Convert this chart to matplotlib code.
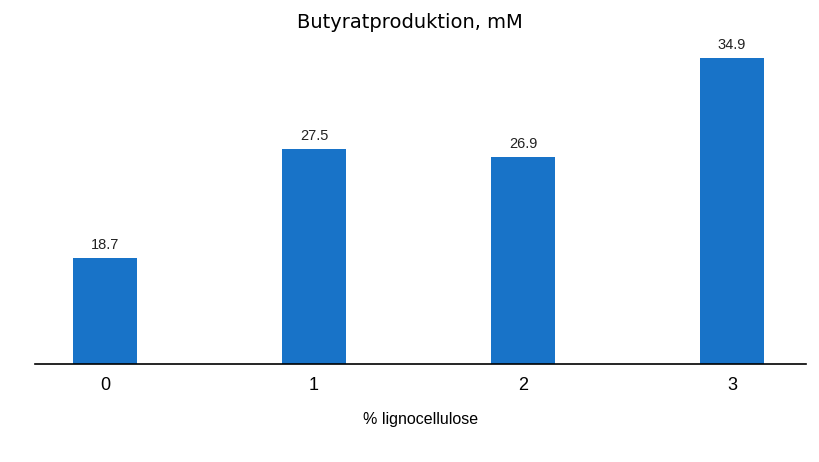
import matplotlib
matplotlib.use('Agg')
import matplotlib.pyplot as plt

# data
categories = ['0', '1', '2', '3']
values = [18.7, 27.5, 26.9, 34.9]
labels = ['18.7', '27.5', '26.9', '34.9']

fig = plt.figure(figsize=(8.2, 4.62), dpi=100)
ax = fig.add_axes([0.0427, 0.212, 0.9403, 0.692])

x = range(len(categories))
bars = ax.bar(x, values, width=0.31, color='#1873C8', bottom=0)
ax.set_ylim(10.1, 36)
ax.set_xlim(-0.335, 3.354)

for b, lab in zip(bars, labels):
    ax.text(b.get_x() + b.get_width() / 2, b.get_height() + 0.5, lab,
            ha='center', va='bottom', fontsize=10.5, family='Liberation Sans',
            color='#222222')

ax.set_xticks(list(x))
ax.set_xticklabels(categories, family='Liberation Sans', fontsize=13)
ax.tick_params(axis='x', length=0, pad=9)
ax.set_yticks([])
for s in ['top', 'right', 'left']:
    ax.spines[s].set_visible(False)
ax.spines['bottom'].set_linewidth(1.2)

ax.set_xlabel('% lignocellulose', family='Liberation Sans', fontsize=11.5, labelpad=13)
fig.text(0.5, 0.952, 'Butyratproduktion, mM', ha='center', va='center',
         fontsize=14, family='DejaVu Sans')

fig.savefig('out.png', dpi=100)
